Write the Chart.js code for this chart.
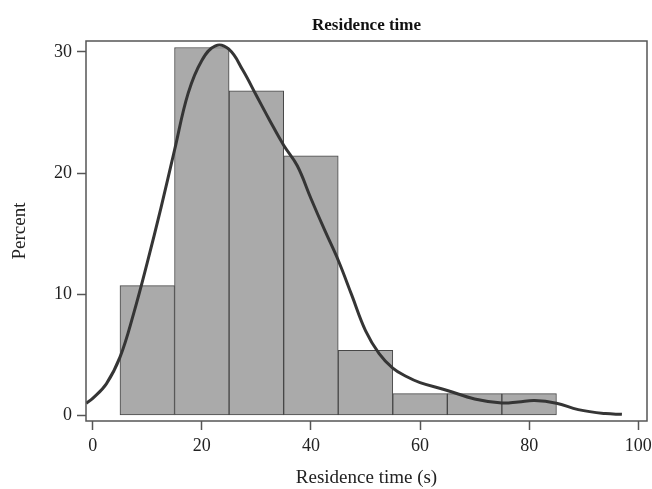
<!DOCTYPE html>
<html>
<head>
<meta charset="utf-8">
<script src="https://cdn.jsdelivr.net/npm/chart.js@4"></script>
<style>
  html, body { margin: 0; padding: 0; background: #fff; }
  #wrap { width: 652px; height: 489px; }
</style>
</head>
<body>
<div id="wrap"><canvas id="hist" width="652" height="489"></canvas></div>
<script>
// histograma: centro de cada classe (largura 10 s) e percentagem
const binCenters = [10, 20, 30, 40, 50, 60, 70, 80];
const binPercent = [10.71, 30.36, 26.79, 21.43, 5.36, 1.79, 1.79, 1.79];

// curva de densidade (kernel)
const densX = [-1.2, 0, 2.5, 5, 7.5, 10, 12.5, 15, 17.5, 20, 22.5, 25, 27.5, 30, 32.5, 35, 37.5, 40, 42.5, 45, 47.5, 50, 52.5, 55, 57.5, 60, 65, 70, 75, 78, 81, 85, 89, 94, 97];
const densY = [1.0, 1.4, 2.6, 4.8, 8.4, 12.6, 17.1, 21.9, 26.6, 29.3, 30.5, 30.2, 28.5, 26.4, 24.3, 22.3, 20.6, 17.9, 15.3, 12.8, 9.9, 7.0, 5.1, 3.9, 3.2, 2.7, 2.05, 1.35, 1.02, 1.1, 1.22, 1.0, 0.47, 0.14, 0.08];

// marcas dos eixos
const xTicks = [0, 20, 40, 60, 80, 100];
const yTicks = [0, 10, 20, 30];

const serif = "'Liberation Serif', 'DejaVu Serif', serif";
const axisColor = "#555";

// moldura em volta da area do grafico
const framePlugin = {
  id: "frame",
  afterDatasetsDraw(chart) {
    const a = chart.chartArea;
    const ctx = chart.ctx;
    ctx.save();
    ctx.strokeStyle = axisColor;
    ctx.lineWidth = 1.5;
    ctx.strokeRect(a.left, a.top, a.right - a.left, a.bottom - a.top);
    ctx.restore();
  }
};

const ctx = document.getElementById("hist").getContext("2d");

new Chart(ctx, {
  data: {
    datasets: [
      {
        type: "line",
        data: densX.map((x, i) => ({ x: x, y: densY[i] })),
        borderColor: "#353535",
        borderWidth: 3,
        pointRadius: 0,
        tension: 0.4,
        fill: false,
        order: 0
      },
      {
        type: "bar",
        data: binCenters.map((x, i) => ({ x: x, y: binPercent[i] })),
        backgroundColor: "#aaaaaa",
        borderColor: "#474747",
        borderWidth: 1,
        borderSkipped: false,
        barPercentage: 1,
        categoryPercentage: 1,
        order: 1
      }
    ]
  },
  options: {
    responsive: false,
    animation: false,
    layout: { padding: { left: 0, right: 5, top: 0, bottom: 0 } },
    plugins: {
      legend: { display: false },
      tooltip: { enabled: false },
      title: {
        display: true,
        fullSize: false, // centra o titulo sobre a area do grafico
        text: "Residence time",
        color: "#111",
        font: { family: serif, size: 17, weight: "bold" },
        padding: { top: 15, bottom: 5.6 }
      }
    },
    scales: {
      x: {
        type: "linear",
        offset: false,
        min: -1.23,
        max: 101.6,
        afterBuildTicks: s => { s.ticks = xTicks.map(v => ({ value: v })); },
        afterFit: s => { s.height = 68; s.paddingLeft = 0; s.paddingRight = 0; },
        border: { display: false },
        grid: { offset: false, drawOnChartArea: false, drawTicks: true, tickLength: 9, tickColor: axisColor, tickWidth: 1.5 },
        ticks: { color: "#222", padding: 5, maxRotation: 0, font: { family: serif, size: 18 } },
        title: {
          display: true,
          text: "Residence time (s)",
          color: "#222",
          font: { family: serif, size: 19 },
          padding: { top: 0, bottom: 0 }
        }
      },
      y: {
        type: "linear",
        min: -0.47,
        max: 30.9,
        afterBuildTicks: s => { s.ticks = yTicks.map(v => ({ value: v })); },
        afterFit: s => { s.width = 86; s.paddingTop = 0; s.paddingBottom = 0; },
        border: { display: false },
        grid: { drawOnChartArea: false, drawTicks: true, tickLength: 9, tickColor: axisColor, tickWidth: 1.5 },
        ticks: { color: "#222", padding: 5, font: { family: serif, size: 18 } },
        title: {
          display: true,
          text: "Percent",
          color: "#222",
          font: { family: serif, size: 19 },
          padding: { top: 8.6, bottom: 0 }
        }
      }
    }
  },
  plugins: [framePlugin]
});
</script>
</body>
</html>
